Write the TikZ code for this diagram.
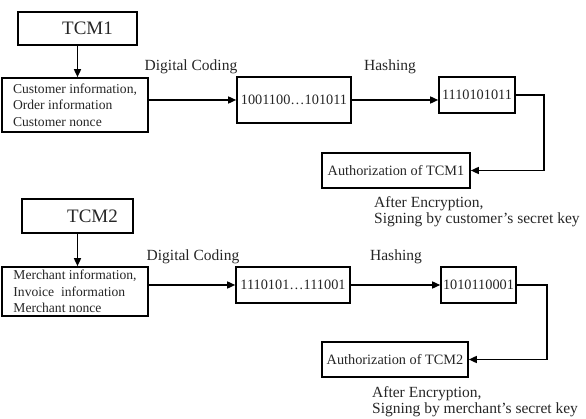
\documentclass[tikz,border=0pt]{standalone}
\usepackage{fontspec}
\setmainfont{Liberation Serif}
\usetikzlibrary{arrows.meta}
\begin{document}
\begin{tikzpicture}[x=1pt,y=-1pt,
  box/.style={draw, line width=1.6pt, inner sep=0pt, text=black!85, font=\fontsize{14.3}{16}\selectfont},
  tcm/.style={box, font=\fontsize{19}{22}\selectfont},
  info/.style={box, align=left, font=\fontsize{13.6}{16.5}\selectfont},
  lbl/.style={inner sep=0pt, text=black!85, font=\fontsize{15.5}{16}\selectfont},
  arr/.style={line width=1.5pt, -{Triangle[length=8pt,width=7pt]}}]
\useasboundingbox (0,0) rectangle (586,419);
% top section
\node[tcm, minimum width=119pt, minimum height=33pt] (tcm1) at (77.5,28.5) {\hspace*{20pt}TCM1};
\node[info, minimum width=146pt, minimum height=54pt] (info1) at (75,105) {Customer information,\\Order information\\Customer nonce};
\node[box, minimum width=114pt, minimum height=46pt] (code1) at (294,100) {1001100…101011};
\node[box, minimum width=76pt, minimum height=36pt] (hash1) at (477,95) {1110101011};
\node[box, minimum width=148pt, minimum height=35pt] (auth1) at (396,170.5) {Authorization of TCM1};
\node[lbl] (dc1) at (191,67) {Digital Coding};
\node[lbl] (h1) at (390,67) {Hashing};
\node[lbl, align=left, anchor=north west] (note1) at (374,196) {After Encryption,\\Signing by customer’s secret key};
\draw[arr] (tcm1.south) -- (tcm1.south |- info1.north);
\draw[arr] (info1.east |- code1.west) -- (code1.west);
\draw[arr] (code1.east) -- (code1.east -| hash1.west);
\draw[arr] (hash1.east) -- ++(28,0) |- (auth1.east);
% bottom section
\node[tcm, minimum width=111pt, minimum height=34pt] (tcm2) at (77.5,216) {\hspace*{30pt}TCM2};
\node[info, minimum width=146pt, minimum height=49pt] (info2) at (75,291.5) {Merchant information,\\Invoice\ \ information\\Merchant nonce};
\node[box, minimum width=114pt, minimum height=36pt] (code2) at (293,285) {1110101…111001};
\node[box, minimum width=75pt, minimum height=36pt] (hash2) at (478.5,285) {1010110001};
\node[box, minimum width=146pt, minimum height=35pt] (auth2) at (395,359.5) {Authorization of TCM2};
\node[lbl] (dc2) at (193,257) {Digital Coding};
\node[lbl] (h2) at (396,257) {Hashing};
\node[lbl, align=left, anchor=north west] (note2) at (372,386) {After Encryption,\\Signing by merchant’s secret key};
\draw[arr] (tcm2.south) -- (tcm2.south |- info2.north);
\draw[arr] (info2.east |- code2.west) -- (code2.west);
\draw[arr] (code2.east) -- (code2.east -| hash2.west);
\draw[arr] (hash2.east) -- ++(30,0) |- (auth2.east);
\end{tikzpicture}
\end{document}
